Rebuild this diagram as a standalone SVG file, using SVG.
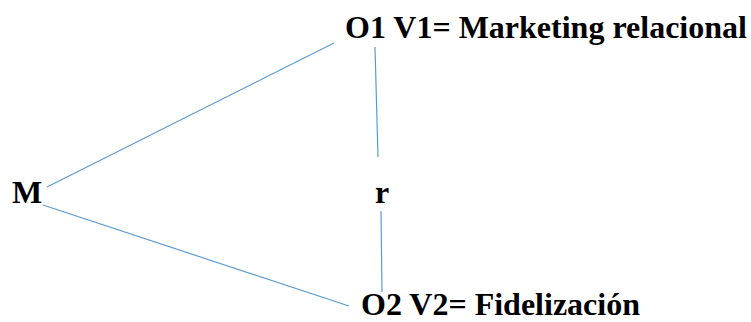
<svg xmlns="http://www.w3.org/2000/svg" width="751" height="322" viewBox="0 0 751 322">
<style>
.t{font-family:"Liberation Serif","Times New Roman",serif;font-weight:bold;font-size:32px;fill:#000}
.c line{stroke:#5B9BD5;stroke-width:1.2;fill:none}
</style>
<rect width="751" height="322" fill="#fff"/>
<g class="c" id="connectors">
<line x1="47" y1="187" x2="334" y2="43"/>
<line x1="43" y1="205" x2="349" y2="306"/>
<line x1="375" y1="47" x2="378" y2="157"/>
<line x1="381" y1="211" x2="382" y2="292"/>
</g>
<g id="o1"><text class="t" x="345" y="38">O1 V1= Marketing relacional</text></g>
<g id="m"><text class="t" x="12" y="203">M</text></g>
<g id="r"><text class="t" x="375" y="203">r</text></g>
<g id="o2"><text class="t" x="361" y="315">O2 V2= Fidelización</text></g>
</svg>
